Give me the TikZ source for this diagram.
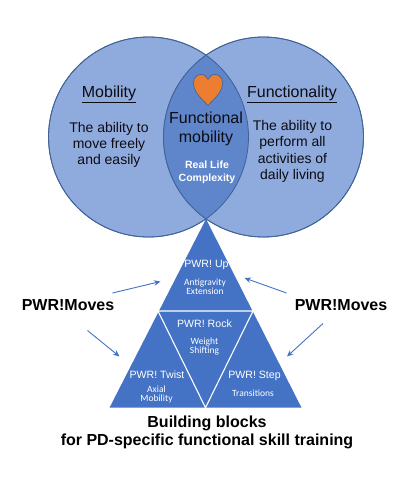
\documentclass[tikz,border=0pt]{standalone}
\usepackage{fontspec}
\setmainfont{Liberation Sans}
\newfontfamily\smallfam{Carlito}
\usetikzlibrary{arrows.meta}
\definecolor{circfill}{HTML}{8FAADC}
\definecolor{lensfill}{HTML}{5F85CB}
\definecolor{circline}{HTML}{3F6298}
\definecolor{trifill}{HTML}{4472C4}
\definecolor{heartfill}{HTML}{ED7D31}
\definecolor{ink}{HTML}{0C0C14}
\tikzset{
  x=1pt,y=-1pt,
  circ/.style={circle,draw=circline,line width=0.8pt,fill=circfill,minimum size=200pt,inner sep=0pt},
  lbl/.style={inner sep=0pt,align=center,text=ink},
  headtxt/.style={lbl,font=\fontsize{16}{18}\selectfont},
  bodytxt/.style={lbl,font=\fontsize{14}{16.3}\selectfont},
  lenstxt/.style={lbl,font=\fontsize{16}{18.5}\selectfont},
  lifetxt/.style={lbl,text=white,font=\bfseries\fontsize{10.5}{13}\selectfont},
  pwrtxt/.style={lbl,text=white,font=\fontsize{10.6}{13}\selectfont},
  subtxt/.style={lbl,text=white,font=\smallfam\fontsize{9.5}{9}\selectfont},
  boldtxt/.style={lbl,text=black,font=\bfseries\fontsize{16}{18}\selectfont},
  movetxt/.style={lbl,text=black,font=\bfseries\fontsize{16}{18}\selectfont},
  pointer/.style={draw=trifill,line width=0.9pt,-{Stealth[length=6.5pt,width=5.5pt]}},
  divider/.style={draw=white,line width=1.1pt},
}
\begin{document}
\begin{tikzpicture}
\useasboundingbox (0,0) rectangle (402,493);
\fill[white] (0,0) rectangle (402,493);

% Venn
\node[circ] (left) at (148.5,137) {};
\node[circ] (right) at (263.5,137) {};
\begin{scope}
  \clip (148.5,137) circle[radius=100];
  \fill[lensfill] (263.5,137) circle[radius=100];
\end{scope}
\draw[circline,line width=0.8pt] (148.5,137) circle[radius=100];
\draw[circline,line width=0.8pt] (263.5,137) circle[radius=100];

% Heart
\draw[fill=heartfill,draw=circline,line width=0.6pt]
  (208,105.5) .. controls (201,98) and (193.5,92) .. (193.5,83)
  .. controls (193.5,77.5) and (197,74.5) .. (201,74.5)
  .. controls (204.5,74.5) and (206.8,76.5) .. (208,79.5)
  .. controls (209.2,76.5) and (211.5,74.5) .. (215,74.5)
  .. controls (219,74.5) and (222.5,77.5) .. (222.5,83)
  .. controls (222.5,92) and (215,98) .. (208,105.5) -- cycle;

% Pyramid
\fill[trifill] (206,219) -- (301.5,407.7) -- (109.5,407.7) -- cycle;
\coordinate (midl) at (158,311);
\coordinate (midr) at (253,311);
\coordinate (midb) at (205.5,407.7);
\draw[divider] (midl) -- (midr) -- (midb) -- cycle;

% Venn text
\node[headtxt] (mob) at (109,94) {\underline{Mobility}};
\node[headtxt] (fun) at (292,94) {\underline{Functionality}};
\node[bodytxt] (mobb) at (109,145) {The ability to\\move freely\\and easily};
\node[bodytxt] (funb) at (292.5,151.5) {The ability to\\perform all\\activities of\\daily living};
\node[lenstxt] (fm) at (206,129) {Functional\\mobility};
\node[lifetxt] (rl) at (207,172.5) {Real Life\\Complexity};

% Pyramid text
\node[pwrtxt] (up) at (206.5,265) {PWR! Up};
\node[subtxt] (upb) at (205,286.5) {Antigravity\\Extension};
\node[pwrtxt] (rock) at (204.5,324) {PWR! Rock};
\node[subtxt] (rockb) at (204.5,346.5) {Weight\\Shifting};
\node[pwrtxt] (twist) at (157,375) {PWR! Twist};
\node[subtxt] (twistb) at (156.5,394.5) {Axial\\Mobility};
\node[pwrtxt] (stepn) at (254.5,376) {PWR! Step};
\node[subtxt] (stepb) at (253,393) {Transitions};

% PWR!Moves and pointers
\node[movetxt] (ml) at (68,305) {PWR!Moves};
\node[movetxt] (mr) at (341,305) {PWR!Moves};
\coordinate (a1s) at (112.5,293);
\coordinate (a1e) at (160.5,281.5);
\coordinate (a2s) at (286.5,293);
\coordinate (a2e) at (244.5,278);
\coordinate (a3s) at (87.5,330.5);
\coordinate (a3e) at (119.5,356.5);
\coordinate (a4s) at (323,323.5);
\coordinate (a4e) at (287,356.5);
\draw[pointer] (a1s) -- (a1e);
\draw[pointer] (a2s) -- (a2e);
\draw[pointer] (a3s) -- (a3e);
\draw[pointer] (a4s) -- (a4e);

% Caption
\node[boldtxt] (cap) at (207,432) {Building blocks\\for PD-specific functional skill training};
\end{tikzpicture}
\end{document}
